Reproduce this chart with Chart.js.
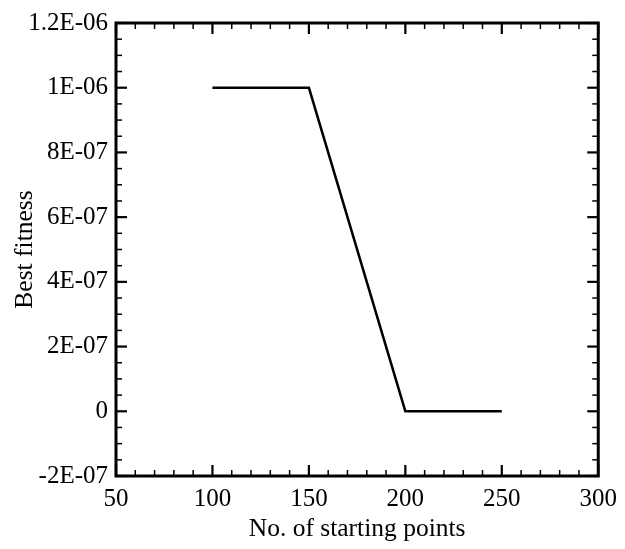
<!DOCTYPE html>
<html>
<head>
<meta charset="utf-8">
<script src="https://cdn.jsdelivr.net/npm/chart.js@4.4.1/dist/chart.umd.min.js"></script>
<style>
  body { margin: 0; background: #fff; }
  #wrap { width: 625px; height: 549px; }
</style>
</head>
<body>
<div id="wrap"><canvas id="fitnessChart" width="625" height="549"></canvas></div>
<script>
// Data
const startingPoints = [100, 150, 200, 250];
const bestFitness = [1e-6, 1e-6, 0, 0];

const xTicks = [50, 100, 150, 200, 250, 300];
const xTickLabels = ['50', '100', '150', '200', '250', '300'];
const yTicks = [-2e-7, 0, 2e-7, 4e-7, 6e-7, 8e-7, 1e-6, 1.2e-6];
const yTickLabels = ['-2E-07', '0', '2E-07', '4E-07', '6E-07', '8E-07', '1E-06', '1.2E-06'];

const FONT = "'Liberation Serif', 'Times New Roman', serif";

// Frame with inward ticks on all four sides (major + minor)
const frameTicks = {
    id: 'frameTicks',
    afterDatasetsDraw(chart) {
        const { ctx, chartArea: a, scales } = chart;
        const xs = scales.x, ys = scales.y;
        ctx.save();
        ctx.strokeStyle = '#000';
        ctx.lineCap = 'butt';

        function tick(x1, y1, x2, y2, w) {
            ctx.lineWidth = w;
            ctx.beginPath();
            ctx.moveTo(x1, y1);
            ctx.lineTo(x2, y2);
            ctx.stroke();
        }

        // x ticks (bottom and top)
        for (let i = 0; i < xTicks.length; i++) {
            const px = xs.getPixelForValue(xTicks[i]);
            tick(px, a.bottom, px, a.bottom - 11, 2.2);
            tick(px, a.top, px, a.top + 11, 2.2);
            if (i < xTicks.length - 1) {
                const step = (xTicks[i + 1] - xTicks[i]) / 5;
                for (let k = 1; k < 5; k++) {
                    const mx = xs.getPixelForValue(xTicks[i] + k * step);
                    tick(mx, a.bottom, mx, a.bottom - 6, 1.5);
                    tick(mx, a.top, mx, a.top + 6, 1.5);
                }
            }
        }
        // y ticks (left and right)
        for (let i = 0; i < yTicks.length; i++) {
            const py = ys.getPixelForValue(yTicks[i]);
            tick(a.left, py, a.left + 11, py, 2.2);
            tick(a.right, py, a.right - 11, py, 2.2);
            if (i < yTicks.length - 1) {
                const step = (yTicks[i + 1] - yTicks[i]) / 4;
                for (let k = 1; k < 4; k++) {
                    const my = ys.getPixelForValue(yTicks[i] + k * step);
                    tick(a.left, my, a.left + 6, my, 1.5);
                    tick(a.right, my, a.right - 6, my, 1.5);
                }
            }
        }
        // frame
        ctx.lineWidth = 3;
        ctx.strokeRect(a.left, a.top, a.right - a.left, a.bottom - a.top);
        ctx.restore();
    }
};

new Chart(document.getElementById('fitnessChart').getContext('2d'), {
    type: 'line',
    data: {
        datasets: [{
            data: startingPoints.map((x, i) => ({ x: x, y: bestFitness[i] })),
            borderColor: '#000',
            borderWidth: 2.6,
            pointRadius: 0,
            tension: 0,
            fill: false
        }]
    },
    options: {
        responsive: false,
        animation: false,
        devicePixelRatio: 1,
        layout: { padding: { top: 22, right: 23, left: 0, bottom: 0 } },
        plugins: {
            legend: { display: false },
            tooltip: { enabled: false }
        },
        scales: {
            x: {
                type: 'linear',
                min: 50,
                max: 300,
                afterBuildTicks: s => { s.ticks = xTicks.map(v => ({ value: v })); },
                afterFit: s => { s.height = 73; },
                grid: { display: false, drawTicks: false },
                border: { display: false },
                ticks: {
                    padding: 8,
                    color: '#000',
                    font: { family: FONT, size: 25 },
                    maxRotation: 0,
                    callback: (v, i) => xTickLabels[i]
                },
                title: {
                    display: true,
                    text: 'No. of starting points',
                    color: '#000',
                    font: { family: FONT, size: 25.5 },
                    padding: { top: 0, bottom: 4 }
                }
            },
            y: {
                type: 'linear',
                min: -2e-7,
                max: 1.2e-6,
                afterBuildTicks: s => { s.ticks = yTicks.map(v => ({ value: v })); },
                afterFit: s => { s.width = 116; },
                grid: { display: false, drawTicks: false },
                border: { display: false },
                ticks: {
                    padding: 8,
                    color: '#000',
                    font: { family: FONT, size: 25 },
                    callback: (v, i) => yTickLabels[i]
                },
                title: {
                    display: true,
                    text: 'Best fitness',
                    color: '#000',
                    font: { family: FONT, size: 25.5 },
                    padding: { top: 10, bottom: 0 }
                }
            }
        }
    },
    plugins: [frameTicks]
});
</script>
</body>
</html>
